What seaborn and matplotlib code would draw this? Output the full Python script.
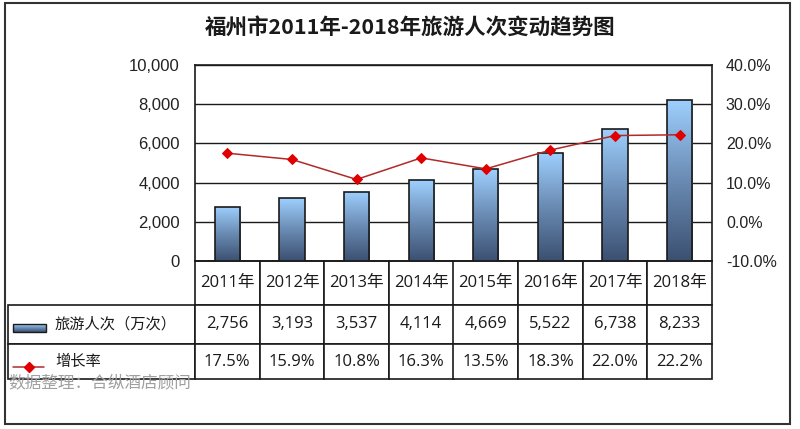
import numpy as np
import pandas as pd
import seaborn as sns
import matplotlib.pyplot as plt
from matplotlib.colors import LinearSegmentedColormap
from matplotlib.patches import Rectangle

# Chart data
years = ['2011年', '2012年', '2013年', '2014年', '2015年', '2016年', '2017年', '2018年']
visitors = [2756, 3193, 3537, 4114, 4669, 5522, 6738, 8233]
growth = [17.5, 15.9, 10.8, 16.3, 13.5, 18.3, 22.0, 22.2]

title = '福州市2011年-2018年旅游人次变动趋势图'
bar_label = '旅游人次（万次）'
line_label = '增长率'
source = '数据整理：合纵酒店顾问'

df = pd.DataFrame({'year': years, 'visitors': visitors, 'growth': growth})

sns.set_style('white')
plt.rcParams['font.family'] = ['Liberation Sans', 'Noto Sans CJK SC', 'DejaVu Sans']
cjk = ['Noto Sans CJK SC', 'DejaVu Sans']
table_font = ['Open Sans', 'Noto Sans CJK SC', 'DejaVu Sans']

W, H = 800, 429
fig = plt.figure(figsize=(W / 100, H / 100), dpi=100)
ax = fig.add_axes([195 / W, 1 - 261 / H, 517 / W, 196 / H])

# Bars with a vertical gradient
bar_cmap = LinearSegmentedColormap.from_list('bar', ['#3b5071', '#6a8bb3', '#9ed0ff'])
sns.barplot(data=df, x='year', y='visitors', ax=ax, width=0.39, color='#7aa0cc',
            edgecolor='#1a1a1a', linewidth=1.2, zorder=3)

grad = np.linspace(0, 1, 256).reshape(-1, 1)
for bar in ax.patches:
    x0, y0 = bar.get_x(), bar.get_y()
    w, h = bar.get_width(), bar.get_height()
    img = ax.imshow(grad, extent=[x0, x0 + w, y0, y0 + h], origin='lower',
                    aspect='auto', cmap=bar_cmap, zorder=3)
    img.set_clip_path(bar)
    bar.set_facecolor('none')
    bar.set_zorder(4)

ax.set_xlim(-0.5, len(years) - 0.5)
ax.set_ylim(0, 10000)
ax.set_yticks(range(0, 10001, 2000))
ax.set_yticklabels([f'{v:,}' for v in range(0, 10001, 2000)], fontsize=12, color='#222')
ax.set_xticks([])
ax.set_xlabel('')
ax.set_ylabel('')
ax.tick_params(axis='y', length=0, pad=11)
ax.yaxis.grid(True, color='#1a1a1a', linewidth=1.0)
ax.set_axisbelow(True)
for s in ax.spines.values():
    s.set_color('#1a1a1a')
    s.set_linewidth(1.2)

# Growth rate line on the secondary axis
ax2 = ax.twinx()
sns.lineplot(x=np.arange(len(years)), y=growth, ax=ax2, color='#b02a2a', linewidth=1.1,
             marker='D', markersize=5.5, markerfacecolor='#e00000', markeredgecolor='#e00000',
             zorder=5)
ax2.set_ylim(-10, 40)
ax2.set_yticks(range(-10, 41, 10))
ax2.set_yticklabels([f'{v:.1f}%' for v in range(-10, 41, 10)], fontsize=11.5, color='#222')
ax2.tick_params(axis='y', length=0, pad=10)
ax2.set_ylabel('')
ax2.set_xlim(-0.5, len(years) - 0.5)
for s in ax2.spines.values():
    s.set_visible(False)

# Data table under the plot
label_w = 187 / 517
cell_text = [[bar_label] + [f'{v:,}' for v in visitors],
             [line_label] + [f'{g:.1f}%' for g in growth]]
tbl = ax.table(cellText=cell_text, colLabels=[''] + years,
               colWidths=[label_w] + [1 / len(years)] * len(years),
               cellLoc='center', bbox=[-label_w, -118 / 196, 1 + label_w, 118 / 196])
tbl.auto_set_font_size(False)
tbl.set_fontsize(12)
row_heights = {0: 44, 1: 39, 2: 35}
for (r, c), cell in tbl.get_celld().items():
    cell.set_height(row_heights[r])
    cell.set_edgecolor('#1a1a1a')
    cell.set_linewidth(1.2)
    cell.get_text().set_fontfamily(table_font)
    cell.get_text().set_color('#1a1a1a')
    if r == 0 and c == 0:
        cell.visible_edges = ''
    if c == 0 and r > 0:
        cell.get_text().set_fontfamily(cjk)
        cell.get_text().set_fontsize(11)
        cell.get_text().set_ha('left')
        cell.PAD = 47 / 187

# Legend keys inside the table
def ax_x(px):
    return (px - 195) / 517


def ax_y(py):
    return (261 - py) / 196


ax.imshow(grad, extent=[ax_x(13), ax_x(46), ax_y(332), ax_y(324)], origin='lower',
          aspect='auto', cmap=bar_cmap, transform=ax.transAxes, clip_on=False, zorder=6)
ax.add_patch(Rectangle((ax_x(13), ax_y(332)), ax_x(46) - ax_x(13), ax_y(324) - ax_y(332),
                       transform=ax.transAxes, fill=False, edgecolor='#1a1a1a',
                       linewidth=1.0, clip_on=False, zorder=7))
ax.plot([ax_x(13), ax_x(44)], [ax_y(367), ax_y(367)], color='#b02a2a', linewidth=1.1,
        transform=ax.transAxes, clip_on=False, zorder=7)
ax.plot([ax_x(29)], [ax_y(367)], marker='D', markersize=5, color='#e00000',
        transform=ax.transAxes, clip_on=False, zorder=8)

# Title, source note and outer frame
fig.text(410 / W, 1 - 27 / H, title, fontsize=15.5, fontweight='bold', family=cjk,
         ha='center', va='center', color='#1a1a1a')
fig.text(8 / W, 1 - 383 / H, source, fontsize=12, family=cjk, color='#a0a0a0',
         ha='left', va='center')
fig.add_artist(Rectangle((5 / W, 1 - 424 / H), 785 / W, 421 / H, transform=fig.transFigure,
                         fill=False, edgecolor='#333333', linewidth=1.5))

fig.savefig('out.png', dpi=100)
